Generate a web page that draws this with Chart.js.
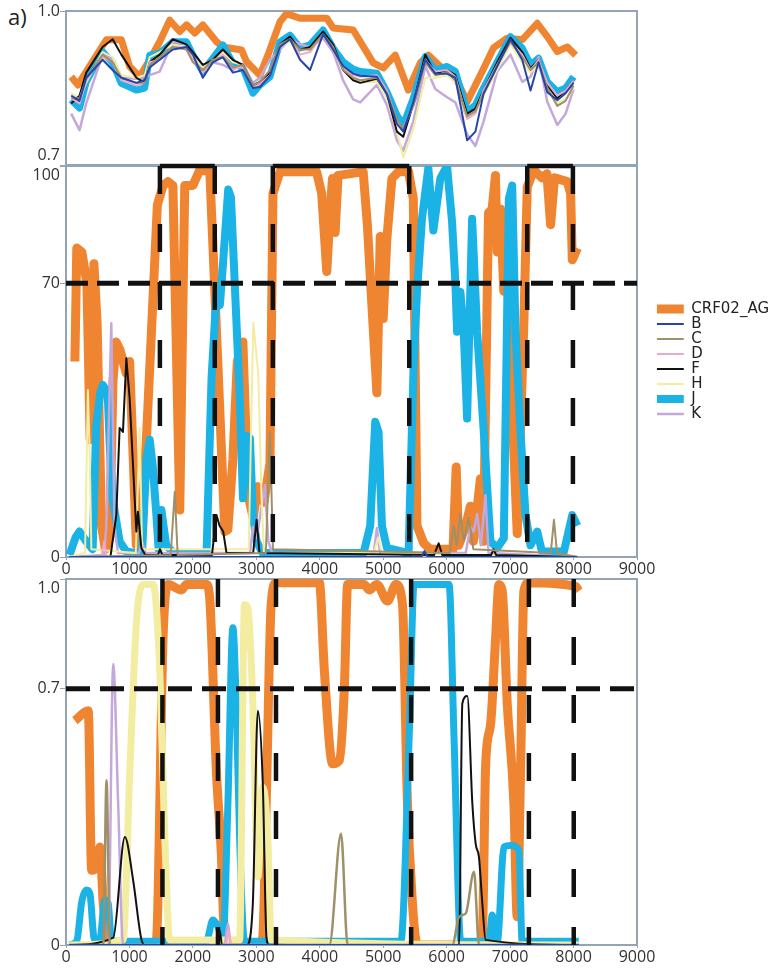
<!DOCTYPE html>
<html>
<head>
<meta charset="utf-8">
<script src="https://cdn.jsdelivr.net/npm/chart.js@4.4.1/dist/chart.umd.min.js"></script>
<style>
  body { margin: 0; background: #fff; width: 779px; height: 971px; position: relative; overflow: hidden; }
  .panel { position: absolute; left: 0; width: 779px; }
  #tag { position: absolute; left: 8px; top: 1px; font: 22px 'Open Sans', sans-serif; color: #222; }
</style>
</head>
<body>
<div id="tag">a)</div>
<div class="panel" style="top:-15px;height:205px"><canvas id="c1"></canvas></div>
<div class="panel" style="top:136px;height:450px"><canvas id="c2"></canvas></div>
<div class="panel" style="top:549px;height:422px"><canvas id="c3"></canvas></div>
<script>
// ---- tick labels
const xTicks = [0, 1000, 2000, 3000, 4000, 5000, 6000, 7000, 8000, 9000];
const p1Ticks = [0.7, 1.0];
const p2Ticks = [0, 70, 100];
const p3Ticks = [0, 0.7, 1.0];

// ---- top panel: similarity (0.7 - 1.0)
const p1X = [82,213,319,577,735,872,1109,1240,1319,1477,1683,1898,2000,2157,2314,2473,2630,2788,2946,3057,3215,3373,3531,3689,3847,4052,4210,4368,4526,4637,4900,5058,5216,5316,5474,5663,5821,6006,6137,6322,6453,6580,6796,7006,7191,7322,7448,7586,7744,7875,8000];
const p1J = [.827,.811,.862,.921,.899,.859,.846,.85,.914,.918,.94,.94,.914,.882,.908,.934,.899,.889,.84,.856,.872,.94,.953,.928,.934,.963,.928,.901,.887,.882,.879,.843,.797,.778,.83,.911,.885,.892,.882,.804,.817,.85,.901,.95,.928,.895,.908,.862,.843,.85,.872];
const p1B = [.835,.825,.87,.905,.885,.87,.86,.865,.89,.905,.925,.93,.915,.87,.9,.91,.88,.885,.85,.852,.874,.93,.945,.905,.885,.955,.925,.893,.878,.874,.872,.838,.78,.765,.822,.905,.878,.878,.87,.748,.765,.838,.892,.945,.905,.845,.9,.842,.826,.84,.86];
const p1C = [.83,.83,.868,.915,.9,.87,.86,.86,.895,.91,.93,.925,.9,.885,.905,.91,.89,.895,.855,.862,.885,.935,.945,.925,.925,.955,.93,.885,.87,.865,.87,.84,.79,.77,.815,.9,.875,.88,.865,.795,.805,.84,.895,.94,.91,.885,.9,.85,.815,.825,.855];
const p1D = [.83,.82,.865,.91,.9,.865,.855,.86,.9,.905,.93,.93,.905,.88,.9,.915,.89,.89,.85,.858,.875,.93,.945,.915,.92,.955,.925,.89,.875,.872,.875,.845,.785,.77,.82,.905,.882,.885,.872,.79,.8,.845,.895,.94,.915,.885,.905,.86,.835,.845,.865];
const p1F = [.82,.835,.88,.93,.945,.915,.87,.86,.9,.915,.945,.935,.92,.895,.905,.925,.905,.895,.855,.862,.88,.935,.95,.925,.93,.96,.935,.885,.865,.86,.868,.84,.765,.755,.82,.915,.878,.885,.875,.8,.81,.845,.9,.948,.92,.888,.905,.855,.83,.845,.865];
const p1H = [.84,.83,.86,.92,.91,.875,.87,.875,.91,.92,.935,.93,.91,.89,.905,.92,.9,.895,.85,.86,.88,.93,.94,.925,.93,.955,.93,.89,.87,.86,.862,.83,.765,.715,.77,.87,.87,.875,.86,.79,.805,.835,.885,.935,.9,.88,.895,.85,.82,.83,.85];
const p1K = [.80,.768,.82,.915,.905,.87,.868,.872,.875,.882,.94,.935,.91,.893,.90,.895,.885,.897,.86,.87,.905,.925,.945,.935,.93,.947,.921,.865,.828,.822,.856,.817,.748,.728,.785,.893,.848,.832,.822,.76,.737,.784,.882,.915,.862,.872,.91,.823,.778,.80,.848];
const p1CrfX = [82,187,635,872,1003,1161,1319,1477,1635,1793,1899,2030,2157,2373,2473,2768,2847,3057,3183,3373,3478,3689,4110,4210,4526,4842,5000,5190,5395,5584,5711,5900,6106,6322,6532,6738,6954,7191,7428,7586,7744,7902,8033];
const p1CrfY = [.872,.856,.944,.944,.892,.872,.905,.94,.982,.96,.973,.957,.973,.94,.93,.924,.901,.875,.914,.979,.995,.986,.986,.967,.963,.899,.889,.914,.846,.899,.914,.892,.879,.823,.875,.928,.947,.944,.976,.95,.921,.93,.914];

// ---- middle panel: bootscan (%)
const p2CrfX = [140,170,250,330,380,440,490,560,620,690,740,790,850,950,1003,1060,1109,1180,1267,1440,1530,1606,1685,1793,1872,2000,2109,2267,2504,2551,2631,2700,2788,2868,2950,3026,3120,3215,3262,3373,3950,4030,4110,4170,4200,4242,4289,4684,4750,4900,4953,5000,5058,5137,5237,5400,5474,5532,5640,5740,6100,6150,6190,6300,6374,6422,6532,6580,6659,6717,6769,6796,6848,6900,6927,7006,7059,7112,7217,7270,7375,7500,7580,7638,7700,7900,7954,7980,8060];
const p2CrfY = [50,79,78,70,30,75,60,8,2,5,45,55,53,47,50,25,3,4,30,90,95,96,95,12,95,95,99,98.5,6.5,7,25,50,55,16,10,18,14,24,93,98.5,98.5,93,73,90,96.8,83,97.6,98.5,85,42,82,61,81.5,96.8,98.5,98.5,91.7,8,3.5,2,2,23,3,8,13,4,20,4,88,89,97.6,78,89,68,88,49,27,6,60,94.6,99,97,98,85,97,96,93,76,79];
const p2JX = [55,150,213,319,420,477,540,581,656,700,735,845,951,1100,1200,1267,1319,1366,1425,1460,1504,1579,1700,2215,2294,2373,2425,2473,2557,2600,2741,2789,2847,2899,2946,3004,3100,4690,4750,4795,4874,4926,4980,5058,5400,5479,5532,5611,5711,5790,5900,6006,6085,6137,6164,6216,6269,6322,6401,6480,6585,6690,6796,6901,6980,7033,7085,7164,7243,7322,7428,7500,7848,7980,8060];
const p2JY = [0.5,5,6.5,4,2,33.7,42,44,42,25,15,4,1.4,1,1.5,25,30,23.5,10.7,2,12,3,1,1,45.7,67.8,64.4,74.6,94,92,40,15,31,30.4,10.7,4,1,1,5,8,34.6,32,8,2.3,1,49,67.8,86.6,99.5,83.5,96.8,100,85.7,70.3,57.6,67.8,57.6,35.4,86.5,57.6,32,4,2.3,4.8,91.6,95,57.6,32,10.7,3,6.5,1.5,1.4,10.7,8];
const p2FX = [50,700,793,845,898,951,1003,1056,1109,1134,1188,1250,1450,1480,1520,2300,2373,2420,2478,2530,2950,3004,3050,5800,5874,5930,6700,6740,6780,8060];
const p2FY = [0,0,10.7,33,32,50.8,40.6,23.5,6.5,11.6,2.3,0.5,0.5,2,0.5,0.5,10.7,8,6.5,1,1,9.5,1,0.5,3.5,0.5,0.5,2,0.5,0];
const p2KX = [50,600,635,687,714,766,820,1150,1200,1250,2900,2946,3004,3136,3188,3250,4850,4900,4950,6300,6374,6427,6480,6540,6611,6660,8060];
const p2KY = [0,0.5,7.7,42,59.8,7.7,1,1,4,1,1,7.7,4.8,18.4,4,1,1,7.4,1,1,7.7,6.5,11,3,15.8,1,0];
const p2CX = [50,1650,1714,1760,3150,3215,3262,6050,6111,6160,6216,6270,6348,6420,7640,7691,7740,8060];
const p2CY = [0,0.5,16.7,0.5,1,32,2,1,8,3,11,4,10,2,1,9.5,1,0];
const p2HX = [50,300,345,371,400,1100,1161,1200,2880,2952,3030,3083,3120,4850,4920,4980,8060];
const p2HY = [0,1,42.7,28,2,1,33,2,2,60,47,15,1,1,5,1,0];
const p2DX = [50,560,600,640,8060];
const p2DY = [0,0,4,0,0];
const p2BX = [50,5600,5650,5700,8060];
const p2BY = [0,0,1.5,0,0];
const p2Bounds = [1480, 2345, 3260, 5410, 7270, 7990];
const p2BracketX = [1480, 2345, 2345, 3260, 5410, 5410, 7270, 7990];
const p2BracketY = [100, 100, null, 100, 100, null, 100, 100];

// ---- bottom panel: posterior probability
const p3CrfX = [140,351,404,483,535,587,665,700,1380,1426,1530,1609,1819,1900,2212,2264,2370,2448,2500,2550,3050,3102,3156,3234,3313,3994,4072,4203,4308,4387,4439,4700,4780,4900,5068,5200,5304,5382,5461,5514,5560,6510,6562,6615,6693,6772,6824,6876,6955,7060,7112,7165,7217,7296,8030,8082];
const p3CrfY = [.613,.64,.204,.213,.268,.114,.02,0,0,.014,.84,.985,.97,.985,.985,.95,.477,.25,.014,0,0,.023,.386,.93,.99,.99,.75,.495,.504,.70,.985,.985,.97,.985,.94,.985,.93,.386,.114,.014,0,0,.023,.495,.604,.84,.985,.967,.66,.386,.077,.477,.967,.99,.98,.967];
const p3JX = [50,168,250,325,377,440,483,540,613,665,718,2211,2316,2395,2473,2552,2630,2683,2736,2814,5278,5409,5487,6038,6116,6222,6667,6719,6798,6903,7007,7138,7190,8082];
const p3JY = [0,.01,.12,.15,.14,.02,.01,.02,.123,.114,.01,.01,.068,.05,.01,.386,.867,.66,.295,.01,.01,.567,.985,.985,.567,.01,.01,.082,.01,.268,.272,.259,.01,.01];
const p3FX = [50,744,928,1058,1190,1250,2380,2421,2460,2850,2945,3024,3102,3160,3200,6195,6247,6325,6405,6457,6509,6562,6614,8082];
const p3FY = [0,.02,.295,.177,.014,0,0,.04,0,0,.114,.64,.44,.02,0,0,.66,.68,.386,.277,.24,.114,.014,0];
const p3HX = [50,900,1006,1112,1215,1373,1478,1557,1635,2736,2814,2867,2945,3024,3102,3181,3234,8082];
const p3HY = [0,.014,.477,.886,.985,.985,.75,.295,.014,.014,.93,.92,.66,.186,.43,.295,.014,0];
const p3CX = [50,587,639,692,4151,4335,4439,6090,6195,6300,6431,6509,8082];
const p3CY = [0,0,.45,0,0,.304,0,0,.077,.086,.2,0,0];
const p3KX = [50,665,744,822,900,2500,2552,2600,8082];
const p3KY = [0,0,.768,.386,0,0,.059,0,0];
const p3DX = [50,2520,2560,2600,8082];
const p3DY = [0,0,.04,0,0];
const p3BX = [50,8082];
const p3BY = [0,0];
const p3Bounds = [1520, 2395, 3310, 5440, 7296, 8003];

const colors = {
  CRF02_AG: '#EF8431', B: '#2545A8', C: '#9E9068', D: '#F0A8C8',
  F: '#111111', H: '#F2EDA0', J: '#1BB2E6', K: '#C4A8DC'
};

Chart.defaults.font.family = "'Open Sans', sans-serif";
Chart.defaults.font.size = 16;
Chart.defaults.color = '#333';

const pts = (xs, ys) => xs.map((x, i) => ({ x: x, y: ys[i] }));

function line(label, xs, ys, width, smooth, order) {
  return {
    label: label,
    data: pts(xs, ys),
    borderColor: colors[label],
    backgroundColor: colors[label],
    borderWidth: width,
    borderJoinStyle: 'round',
    pointRadius: 0,
    tension: 0,
    cubicInterpolationMode: smooth ? 'monotone' : 'default',
    order: order
  };
}

function ref(xs, ys, dash, width) {
  return {
    label: '',
    data: pts(xs, ys),
    borderColor: '#111',
    borderWidth: width,
    borderDash: dash,
    pointRadius: 0,
    tension: 0,
    spanGaps: false,
    clip: false,
    order: 0
  };
}

const frame = {
  id: 'frame',
  beforeDatasetsDraw(chart) {
    const { ctx, chartArea: a } = chart;
    ctx.save();
    ctx.strokeStyle = '#93a5b4';
    ctx.lineWidth = 2;
    ctx.strokeRect(a.left, a.top, a.width, a.height);
    ctx.restore();
  }
};

function xAxis(show) {
  return {
    type: 'linear', min: 0, max: 9000, display: show,
    afterBuildTicks: a => { a.ticks = xTicks.map(v => ({ value: v })); },
    afterFit: a => { a.height = show ? 22 : 0; },
    grid: { display: true, drawOnChartArea: false, tickLength: 3, color: '#93a5b4' },
    border: { display: false },
    ticks: { padding: 0, maxRotation: 0, autoSkip: false, callback: v => String(v) }
  };
}

function yAxis(min, max, tickVals, fmt) {
  return {
    type: 'linear', min: min, max: max,
    afterFit: a => { a.width = 66; },
    afterBuildTicks: a => { a.ticks = tickVals.map(v => ({ value: v })); },
    grid: { display: true, drawOnChartArea: false, tickLength: 6, color: '#93a5b4' },
    border: { display: false },
    ticks: { padding: 0, callback: fmt }
  };
}

function baseOptions(pad, scales, legend) {
  return {
    responsive: true,
    maintainAspectRatio: false,
    animation: false,
    devicePixelRatio: 1,
    events: [],
    layout: { padding: pad },
    scales: scales,
    plugins: { legend: legend || { display: false }, tooltip: { enabled: false } }
  };
}

// panel 1
new Chart(document.getElementById('c1'), {
  type: 'line',
  data: {
    datasets: [
      line('CRF02_AG', p1CrfX, p1CrfY, 7, false, 3),
      line('B', p1X, p1B, 2, false, 1),
      line('C', p1X, p1C, 2, false, 1),
      line('D', p1X, p1D, 2, false, 1),
      line('F', p1X, p1F, 2, false, 1),
      line('H', p1X, p1H, 2, false, 1),
      line('J', p1X, p1J, 7, false, 2),
      line('K', p1X, p1K, 2.5, false, 1)
    ]
  },
  options: baseOptions({ left: 0, top: 26, right: 142, bottom: 25 }, {
    x: xAxis(false),
    y: yAxis(0.7, 1.0, p1Ticks, v => v === 0.7 ? ['0.7', ''] : v.toFixed(1))
  }),
  plugins: [frame]
});

// panel 2
let gapW = 19;
const p2Refs = [ref([0, 9000], [70, 70], [22, 9], 5), ref(p2BracketX, p2BracketY, [], 4.5)]
  .concat(p2Bounds.map(b => ref([b, b], [100, 0], [28, 30], 4.5)));
const chart2 = new Chart(document.getElementById('c2'), {
  type: 'line',
  data: {
    datasets: [
      line('CRF02_AG', p2CrfX, p2CrfY, 9, false, 3),
      line('B', p2BX, p2BY, 2, false, 1),
      line('C', p2CX, p2CY, 2, false, 1),
      line('D', p2DX, p2DY, 2, false, 1),
      line('F', p2FX, p2FY, 2, false, 1),
      line('H', p2HX, p2HY, 2, false, 1),
      line('J', p2JX, p2JY, 8, false, 2),
      line('K', p2KX, p2KY, 2.5, false, 1)
    ].concat(p2Refs)
  },
  options: baseOptions({ left: 0, top: 30, right: 0, bottom: 7 }, {
    x: xAxis(true),
    y: yAxis(0, 100, p2Ticks, v => v === 100 ? ['', '100'] : String(v)),
    gap: {
      type: 'linear', position: 'right', display: true,
      grid: { display: false }, border: { display: false }, ticks: { display: false },
      afterFit: a => { a.width = gapW; }
    }
  }, {
    display: true, position: 'right', align: 'center', fullSize: false,
    labels: {
      usePointStyle: true, pointStyle: 'line', pointStyleWidth: 27, padding: 0,
      color: '#222', font: { family: "'DejaVu Sans', sans-serif", size: 15 },
      filter: item => item.text !== '',
      sort: (a, b) => a.datasetIndex - b.datasetIndex
    }
  }),
  plugins: [frame]
});
gapW += chart2.chartArea.right - 637;
chart2.update();

// panel 3
const p3Refs = [ref([0, 9000], [0.7, 0.7], [24, 10], 5)]
  .concat(p3Bounds.map(b => ref([b, b], [1.0, 0], [28, 30], 4.5)));
new Chart(document.getElementById('c3'), {
  type: 'line',
  data: {
    datasets: [
      line('CRF02_AG', p3CrfX, p3CrfY, 9, true, 3),
      line('B', p3BX, p3BY, 2, true, 1),
      line('C', p3CX, p3CY, 2.5, true, 1),
      line('D', p3DX, p3DY, 2, true, 1),
      line('F', p3FX, p3FY, 2, true, 1),
      line('H', p3HX, p3HY, 7, true, 2),
      line('J', p3JX, p3JY, 7, true, 2),
      line('K', p3KX, p3KY, 2.5, true, 1)
    ].concat(p3Refs)
  },
  options: baseOptions({ left: 0, top: 30, right: 142, bottom: 4 }, {
    x: xAxis(true),
    y: yAxis(0, 1.0, p3Ticks, v => v === 1 ? ['', '1.0'] : (v === 0 ? '0' : v.toFixed(1)))
  }),
  plugins: [frame]
});
</script>
</body>
</html>
